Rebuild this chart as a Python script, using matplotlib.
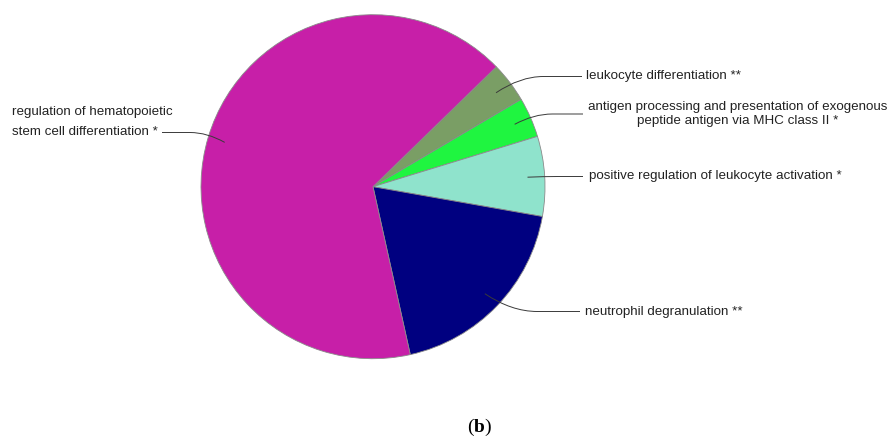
import numpy as np
import matplotlib.pyplot as plt
from matplotlib.path import Path
from matplotlib.patches import PathPatch

plt.rcParams['font.family'] = ['Liberation Sans', 'DejaVu Sans']
plt.rcParams['mathtext.fontset'] = 'custom'
plt.rcParams['mathtext.rm'] = 'Liberation Serif'
plt.rcParams['mathtext.bf'] = 'Liberation Serif:bold'

# ---- data (% of genes per GO group) ----
terms = [
    'leukocyte differentiation **',
    'antigen processing and presentation of exogenous\npeptide antigen via MHC class II *',
    'positive regulation of leukocyte activation *',
    'neutrophil degranulation **',
    'regulation of hematopoietic\nstem cell differentiation *',
]
shares = [3.8, 3.75, 7.5, 18.75, 66.2]
colors = ['#7a9e65', '#1ff540', '#8fe3cc', '#000080', '#c71fa8']

# ---- layout (pixel coords, y from top) ----
W, H = 895, 438
cx, cy, r = 373, 186.7, 172
label_end = [(582, 76.5), (583, 114), (583, 176.5), (580, 311.5), (162, 132.5)]
label_pos = [(586, 76.5, 1.2), (588, 114, 1.2), (589, 176.5, 1.2),
             (585, 311.5, 1.2), (12, 122, 1.95)]
label_align = ['left', 'center', 'left', 'left', 'left']

fig = plt.figure(figsize=(W / 100, H / 100), dpi=100)
ax = fig.add_axes([0, 0, 1, 1])

wedges, _ = ax.pie(shares, colors=colors, startangle=44.2, counterclock=False,
                   center=(cx, H - cy), radius=r,
                   wedgeprops=dict(edgecolor='#8a8a8a', linewidth=0.6))
ax.set_xlim(0, W)
ax.set_ylim(0, H)
ax.set_aspect('equal', adjustable='datalim')
ax.axis('off')

# leader lines: from inside the slice, curving into a flat line at the label
for w, txt, (ex, ey), (tx, ty, ls), mal in zip(wedges, terms, label_end, label_pos, label_align):
    th = np.deg2rad((w.theta1 + w.theta2) / 2)
    sx = cx + 0.9 * r * np.cos(th)
    sy = (H - cy) + 0.9 * r * np.sin(th)
    ey = H - ey
    dx = ex - sx
    verts = [(sx, sy), (sx + 0.28 * dx, ey), (sx + 0.55 * dx, ey), (ex, ey)]
    codes = [Path.MOVETO, Path.CURVE3, Path.CURVE3, Path.LINETO]
    ax.add_patch(PathPatch(Path(verts, codes), fill=False, edgecolor='#3a3a3a', lw=0.7))
    ax.text(tx, H - ty, txt, ha='left', va='center', fontsize=9.6, color='#222222',
            linespacing=ls, multialignment=mal)

ax.text(480, H - 427, r'($\mathbf{b}$)', ha='center', va='center', fontsize=14,
        family='Liberation Serif', color='black')

fig.savefig('out.png', dpi=100)
